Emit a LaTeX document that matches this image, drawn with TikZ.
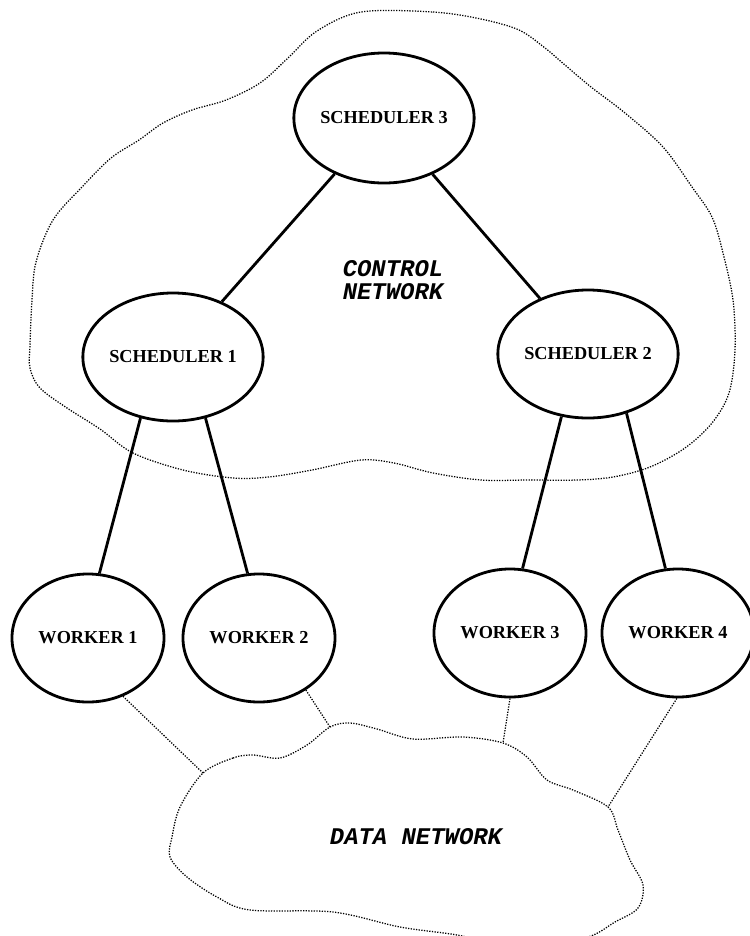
\documentclass[tikz,border=0pt]{standalone}
\usepackage{fontspec}
\setmainfont{Liberation Serif}
\newfontfamily\netfont{Liberation Mono}
\usetikzlibrary{shapes,arrows}
\usetikzlibrary{positioning}
\tikzstyle{unit} = [draw, ellipse, line width=2pt, inner sep=0pt,
minimum width=3.8cm, minimum height=3.2cm]
\tikzstyle{line} = [draw, line width=2pt]
\tikzstyle{netline} = [draw, line width=0.9pt, dash pattern=on 0.9pt off 1pt]

\begin{document}
\begin{tikzpicture}[x=0.025cm, y=-0.025cm,
	unit/.append style={font=\fontsize{13}{15}\selectfont\bfseries},
	netlabel/.style={font=\fontsize{17}{19}\selectfont\netfont\bfseries\itshape, align=center}]
	\useasboundingbox (0,0) rectangle (750,936);
	%% Control network
	\draw [netline] plot [smooth cycle, tension=0.55] coordinates {(361,12) (433,12) (481,19)
		(519,30) (545,48) (565,65) (591,87) (625,113) (663,147) (692,187) (712,217)
		(723,253) (733,300) (735,350) (729,393) (712,423) (685,448) (650,467) (613,477)
		(577,480) (529,480) (481,480) (433,473) (394,463) (361,460) (312,470) (269,477)
		(233,478) (183,470) (133,453) (100,429) (67,408) (40,388) (30,368) (30,345)
		(32,300) (36,262) (53,220) (82,187) (111,158) (139,140) (163,123) (192,110)
		(226,100) (260,83) (288,58) (317,31)};
	\node [netlabel] (cnet) at (393,280) {CONTROL\\[-3pt]NETWORK};
	\node [unit, minimum width=3.65cm, minimum height=3.25cm] (s3) at (384,118) {SCHEDULER 3};
	\node [unit] (s1) at (173,357) {SCHEDULER 1};
	\node [unit] (s2) at (588,354) {SCHEDULER 2};
	\node [unit] (w1) at (88,638) {WORKER 1};
	\node [unit] (w2) at (259,638) {WORKER 2};
	\node [unit] (w3) at (510,633) {WORKER 3};
	\node [unit] (w4) at (678,633) {WORKER 4};
	%% Data network
	\coordinate (d1) at (203,773);
	\coordinate (d2) at (330,727);
	\coordinate (d3) at (503,743);
	\coordinate (d4) at (608,807);
	\draw [netline] plot [smooth cycle, tension=0.55] coordinates {(d1) (233,758) (253,755)
		(280,758) (307,745) (d2) (350,723) (377,729) (413,739) (463,737) (d3) (527,757)
		(547,780) (573,790) (d4) (618,830) (630,860) (643,885) (638,908) (615,922)
		(585,938) (520,948) (457,935) (400,927) (333,912) (250,910) (217,897) (187,877)
		(170,857) (172,837) (180,807)};
	\node [netlabel] (dnet) at (416,837) {DATA NETWORK};
	%% Links
	\path [line] (s3) -- (s1);
	\path [line] (s3) -- (s2);
	\path [line] (s1.-118) -- (w1.80);
	\path [line] (s1.-62) -- (w2.100);
	\path [line] (s2.-113) -- (w3.79);
	\path [line] (s2.-57) -- (w4.101);
	\path [netline] (w1.-59) -- (d1);
	\path [netline] (w2.-48) -- (d2);
	\path [netline] (w3.-90) -- (d3);
	\path [netline] (w4.-91) -- (d4);
\end{tikzpicture}
\end{document}
